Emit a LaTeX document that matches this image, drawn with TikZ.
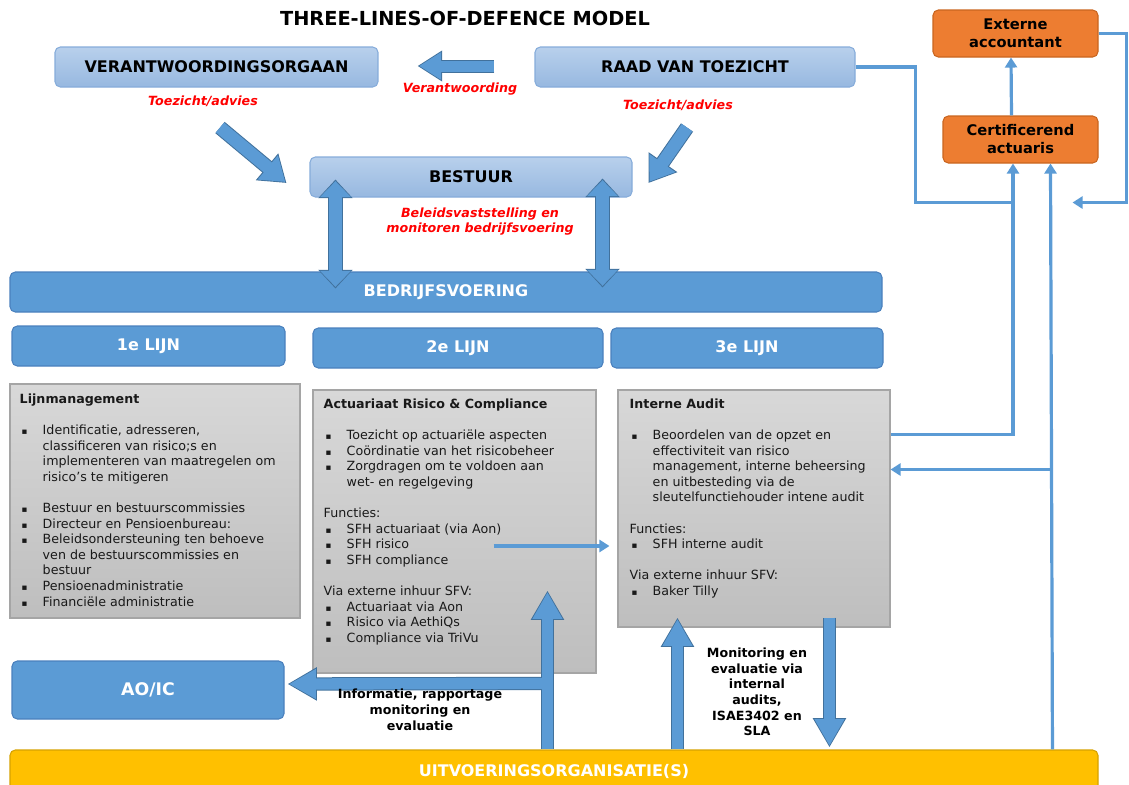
\documentclass[tikz,border=0pt]{standalone}
\usepackage{fontspec}
\setmainfont{DejaVu Sans}
\usepackage{tikz}
\usetikzlibrary{calc,arrows.meta}
\definecolor{lbtop}{HTML}{B8D0EC}
\definecolor{lbbot}{HTML}{97B8E0}
\definecolor{lbedge}{HTML}{86ACDA}
\definecolor{blu}{HTML}{5B9BD5}
\definecolor{bluedge}{HTML}{4A80BD}
\definecolor{arrim}{HTML}{41719C}
\definecolor{gtop}{HTML}{D8D8D8}
\definecolor{gbot}{HTML}{BEBEBE}
\definecolor{gedge}{HTML}{A5A5A5}
\definecolor{oran}{HTML}{ED7D31}
\definecolor{oranedge}{HTML}{C9651F}
\definecolor{yel}{HTML}{FFC000}
\definecolor{yeledge}{HTML}{D6A200}
\definecolor{redlab}{HTML}{FF0000}
\newcommand{\fsz}[2]{\fontsize{#1}{#2}\selectfont}
\newcommand{\bul}{\makebox[17.25pt][l]{\hspace{1.5pt}{\fsz{6.5}{6.5}▪}}}
\newcommand{\ind}{\hspace*{17.25pt}}
% block arrow = dark rim first, blue fill on top
\newcommand{\blockarrow}[3]{\draw[#1rim] #2 -- #3; \draw[#1fill] #2 -- #3;}
\tikzset{
  lightbox/.style={draw=lbedge, line width=0.8pt, rounded corners=4pt, top color=lbtop, bottom color=lbbot, text=black, font=\bfseries\fsz{12}{14}, inner sep=0pt},
  bluebox/.style={draw=bluedge, line width=0.8pt, rounded corners=4pt, fill=blu, text=white, font=\bfseries\fsz{12}{14}, inner sep=0pt},
  graybox/.style={draw=gedge, line width=0.8pt, top color=gtop, bottom color=gbot, inner sep=0pt},
  orangebox/.style={draw=oranedge, line width=0.8pt, rounded corners=4pt, fill=oran, text=black, font=\bfseries\fsz{11}{13.5}, align=center, inner sep=0pt},
  yellowbox/.style={draw=yeledge, line width=0.8pt, rounded corners=4pt, fill=yel, text=white, font=\bfseries\fsz{12}{14}, inner sep=0pt},
  boxtext/.style={anchor=north west, align=left, inner sep=0pt, font=\fsz{9.5}{11.7}, text=black!90},
  redtxt/.style={text=redlab, font=\bfseries\itshape\fsz{9.5}{11.25}, align=center},
  blacktxt/.style={text=black, font=\bfseries\fsz{9.5}{11.7}, align=center},
  bigrim/.style={draw=arrim, line width=10pt, arrows={-Triangle[width=23.5pt,length=22pt]}},
  bigfill/.style={draw=blu, line width=8.5pt, shorten >=1.2pt, arrows={-Triangle[width=21pt,length=20pt]}},
  leftrim/.style={draw=arrim, line width=9.75pt, arrows={-Triangle[width=22pt,length=18.5pt]}},
  leftfill/.style={draw=blu, line width=8.25pt, shorten >=1.2pt, arrows={-Triangle[width=19.5pt,length=16.5pt]}},
  diagrim/.style={draw=arrim, line width=11pt, arrows={-Triangle[width=25pt,length=19pt]}},
  diagfill/.style={draw=blu, line width=9.5pt, shorten >=1.2pt, arrows={-Triangle[width=22.5pt,length=17pt]}},
  dblrim/.style={draw=arrim, line width=11.25pt, arrows={Triangle[width=25pt,length=14pt]-Triangle[width=25pt,length=14pt]}},
  dblfill/.style={draw=blu, line width=9.75pt, shorten >=1.2pt, shorten <=1.2pt, arrows={Triangle[width=22.5pt,length=12pt]-Triangle[width=22.5pt,length=12pt]}},
  link/.style={draw=blu, line width=2.4pt},
  linkarrow/.style={link, arrows={-Triangle[width=9pt,length=7.5pt]}},
}

\begin{document}
\begin{tikzpicture}[x=0.75pt,y=-0.75pt]
\useasboundingbox (0,0) rectangle (1129,785);

% title
\node[font=\bfseries\fsz{14.5}{17}] (title) at (465,18) {THREE-LINES-OF-DEFENCE MODEL};

% governance
\node[lightbox, minimum width=242.25pt, minimum height=30pt] (verant) at (216.5,67) {VERANTWOORDINGSORGAAN};
\node[lightbox, minimum width=240pt, minimum height=30pt] (raad) at (695,67) {RAAD VAN TOEZICHT};
\node[lightbox, minimum width=241.5pt, minimum height=30pt] (bestuur) at (471,177) {BESTUUR};
\node[bluebox, minimum width=654pt, minimum height=30pt] (bedrijf) at (446,292) {BEDRIJFSVOERING};

\node[redtxt] (lverant) at (460,89) {Verantwoording};
\node[redtxt] (ltoez1) at (203,101) {Toezicht/advies};
\node[redtxt] (ltoez2) at (678,105) {Toezicht/advies};
\node[redtxt] (lbeleid) at (480,222) {Beleidsvaststelling en\\monitoren bedrijfsvoering};

\blockarrow{left}{($(raad.west)+(-40,-1)$)}{($(verant.east)+(39,-1)$)}
\blockarrow{diag}{($(verant.south)+(3.5,40)$)}{($(bestuur.west)+(-23,6)$)}
\blockarrow{diag}{($(raad.south)+(-8,40)$)}{($(bestuur.east)+(16,6)$)}
\blockarrow{dbl}{($(bestuur.south west)+(26,-18)$)}{($(bestuur.south west |- bedrijf.north)+(26,17)$)}
\blockarrow{dbl}{($(bestuur.south east)+(-30,-19)$)}{($(bestuur.south east |- bedrijf.north)+(-30,16)$)}

% three lines
\node[bluebox, minimum width=204.75pt, minimum height=30pt] (lijn1) at (148.5,346) {1e LIJN};
\node[bluebox, minimum width=217.5pt, minimum height=30pt] (lijn2) at (458,348) {2e LIJN};
\node[bluebox, minimum width=204pt, minimum height=30pt] (lijn3) at (747,348) {3e LIJN};

\node[graybox, minimum width=217.5pt, minimum height=175.5pt] (box1) at (155,501) {};
\node[graybox, minimum width=212.25pt, minimum height=212.25pt] (box2) at (454.5,531.5) {};
\node[graybox, minimum width=204pt, minimum height=177.75pt] (box3) at (754,508.5) {};

\node[boxtext] (t1) at ($(box1.north west)+(10,10)$) {%
{\bfseries Lijnmanagement}\\[11.7pt]
\bul Identificatie, adresseren,\\
\ind classificeren van risico;s en\\
\ind implementeren van maatregelen om\\
\ind risico's te mitigeren\\[11.7pt]
\bul Bestuur en bestuurscommissies\\
\bul Directeur en Pensioenbureau:\\
\bul Beleidsondersteuning ten behoeve\\
\ind ven de bestuurscommissies en\\
\ind bestuur\\
\bul Pensioenadministratie\\
\bul Financiële administratie};

\node[boxtext] (t2) at ($(box2.north west)+(11,9)$) {%
{\bfseries Actuariaat Risico \& Compliance}\\[11.7pt]
\bul Toezicht op actuariële aspecten\\
\bul Coördinatie van het risicobeheer\\
\bul Zorgdragen om te voldoen aan\\
\ind wet- en regelgeving\\[11.7pt]
Functies:\\
\bul SFH actuariaat (via Aon)\\
\bul SFH risico\\
\bul SFH compliance\\[11.7pt]
Via externe inhuur SFV:\\
\bul Actuariaat via Aon\\
\bul Risico via AethiQs\\
\bul Compliance via TriVu};

\node[boxtext] (t3) at ($(box3.north west)+(12,9)$) {%
{\bfseries Interne Audit}\\[11.7pt]
\bul Beoordelen van de opzet en\\
\ind effectiviteit van risico\\
\ind management, interne beheersing\\
\ind en uitbesteding via de\\
\ind sleutelfunctiehouder intene audit\\[11.7pt]
Functies:\\
\bul SFH interne audit\\[11.7pt]
Via externe inhuur SFV:\\
\bul Baker Tilly};

% execution
\node[bluebox, font=\bfseries\fsz{13}{15}, minimum width=204pt, minimum height=43.5pt] (aoic) at (148,690) {AO/IC};
\node[yellowbox, minimum width=816pt, minimum height=31.5pt] (uitv) at (554,771) {UITVOERINGSORGANISATIE(S)};

\coordinate (aojunc) at ($(uitv.north west)+(543,-66)$);
\coordinate (up2) at ($(uitv.north west)+(538,0)$);
\draw[bigrim] (aojunc) -- ($(aoic.east)+(3,-6)$);
\draw[bigrim] (up2) -- ($(box2.south west)+(235,-83)$);
\draw[bigfill] (aojunc) -- ($(aoic.east)+(3,-6)$);
\draw[bigfill] (up2) -- ($(box2.south west)+(235,-83)$);
\blockarrow{big}{($(uitv.north west)+(668,0)$)}{($(box3.south west)+(60,-10)$)}
\blockarrow{big}{($(box3.south west)+(212,-10)$)}{($(uitv.north west)+(820,-2)$)}

\node[blacktxt, font=\bfseries\fsz{9.5}{12}] (linfo) at (420,710) {Informatie, rapportage\\monitoring en\\evaluatie};
\node[blacktxt] (lmon) at (757,692) {Monitoring en\\evaluatie via\\internal\\audits,\\ISAE3402 en\\SLA};

% external parties
\node[orangebox, minimum width=123.75pt, minimum height=35.25pt] (extacc) at (1015.5,33.5) {Externe\\accountant};
\node[orangebox, minimum width=116.25pt, minimum height=35.25pt] (certact) at (1020.5,139.5) {Certificerend\\actuaris};

\draw[linkarrow] ($(box3.north east)+(0,45)$) -| ($(certact.south)+(-7.5,0)$);
\draw[link] (raad.east) -- ++(60,0) |- ($(certact.south)+(-7.5,39)$);
\draw[linkarrow] ($(uitv.north west)+(1043,0)$) -- ($(certact.south)+(30,0)$);
\coordinate (j2) at ($(certact.south)+(31.5,306)$);
\draw[linkarrow] (j2) -- (j2 -| box3.east);
\draw[linkarrow] ($(certact.north)+(-9,0)$) -- ($(extacc.south)+(-4.5,0)$);
\draw[linkarrow] (extacc.east) -- ++(28,0) |- ($(certact.south east)+(-26,39)$);
\draw[linkarrow] ($(box2.east)+(-103,14.5)$) -- ($(box3.west)+(-8,37.5)$);
\end{tikzpicture}
\end{document}
